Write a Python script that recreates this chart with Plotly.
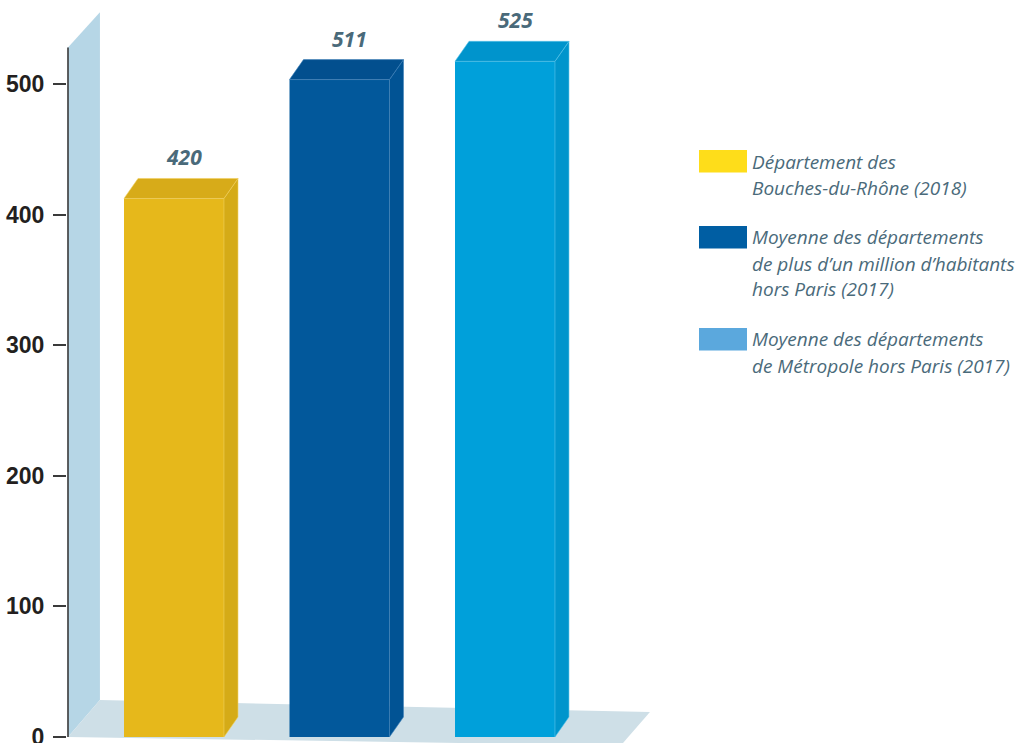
import plotly.graph_objects as go

# --- data -------------------------------------------------------------
categories = [
    "Département des Bouches-du-Rhône (2018)",
    "Moyenne des départements de plus d’un million d’habitants hors Paris (2017)",
    "Moyenne des départements de Métropole hors Paris (2017)",
]
values = [420, 511, 525]
value_labels = ["420", "511", "525"]
legend_lines = [
    ["Département des", "Bouches-du-Rhône (2018)"],
    ["Moyenne des départements", "de plus d’un million d’habitants", "hors Paris (2017)"],
    ["Moyenne des départements", "de Métropole hors Paris (2017)"],
]
y_ticks = [0, 100, 200, 300, 400, 500]

# --- styling ----------------------------------------------------------
front_colors = ["#e6b81b", "#02589b", "#00a0da"]
side_colors = ["#d5ab17", "#015394", "#0095cc"]
top_colors = ["#d7ab19", "#024f8e", "#0094cc"]
edge_colors = ["#f0cf5a", "#3d80b8", "#55c3ea"]
legend_colors = ["#fedd1a", "#005ea3", "#5ba8dd"]
text_color = "#4a6a7a"

W, H = 1022, 743
M_LEFT = 67
X_RANGE = [-0.6465, 5.124]
Y_RANGE = [-4.6, 564.3]

bar_w = 0.604      # front face width (category units)
dx = 0.0846        # depth offset, horizontal (category units)
dy = 15.3          # depth offset, vertical (value units)

fig = go.Figure()

# front faces of the boxes
x_pos = list(range(len(values)))
fig.add_trace(go.Bar(
    x=x_pos,
    y=[v - dy / 2 for v in values],
    base=0,
    width=bar_w,
    marker=dict(color=front_colors, line=dict(width=0)),
    hoverinfo="skip",
    showlegend=False,
))

shapes = []

# back wall and floor
wall_l, wall_r = X_RANGE[0] + 0.006, X_RANGE[0] + 0.199
shapes.append(dict(
    type="path", xref="x", yref="y", layer="below",
    path=f"M {wall_l},0 L {wall_l},528 L {wall_r},555 L {wall_r},28.3 Z",
    fillcolor="#b6d6e6", line=dict(width=0),
))
shapes.append(dict(
    type="path", xref="x", yref="y", layer="below",
    path=f"M {wall_l},0 L {wall_r},28.3 L 2.876,19.1 L 2.70,-6.5 Z",
    fillcolor="#cedfe7", line=dict(width=0),
))

# top and side faces of each box
for i, v in enumerate(values):
    h = v - dy / 2
    xl = i - bar_w / 2
    xr = i + bar_w / 2
    shapes.append(dict(
        type="path", xref="x", yref="y", layer="above",
        path=f"M {xr},0 L {xr},{h} L {xr + dx},{h + dy} L {xr + dx},{dy} Z",
        fillcolor=side_colors[i], line=dict(color=edge_colors[i], width=0.6),
    ))
    shapes.append(dict(
        type="path", xref="x", yref="y", layer="above",
        path=f"M {xl},{h} L {xr},{h} L {xr + dx},{h + dy} L {xl + dx},{h + dy} Z",
        fillcolor=top_colors[i], line=dict(color=edge_colors[i], width=0.6),
    ))

# vertical axis line
shapes.append(dict(
    type="line", xref="x", yref="y", layer="above",
    x0=wall_l, x1=wall_l, y0=0, y1=528,
    line=dict(color="#3a3a3a", width=1.6),
))

annotations = []
for i, v in enumerate(values):
    annotations.append(dict(
        x=i + dx / 2 + 0.02, y=v + dy / 2, xref="x", yref="y",
        text=f"<b><i>{value_labels[i]}</i></b>", showarrow=False,
        yanchor="middle", xanchor="center", yshift=21,
        font=dict(family="Open Sans", size=21, color=text_color),
    ))

# legend drawn by hand
def px_x(p):
    return (p - M_LEFT) / (W - M_LEFT)

def px_y(p):
    return 1 - p / H

swatch_tops = [150, 226, 328]
for k, lines in enumerate(legend_lines):
    top = swatch_tops[k]
    shapes.append(dict(
        type="rect", xref="paper", yref="paper",
        x0=px_x(699), x1=px_x(747), y0=px_y(top + 22.5), y1=px_y(top),
        fillcolor=legend_colors[k], line=dict(width=0),
    ))
    for j, line in enumerate(lines):
        annotations.append(dict(
            x=px_x(750), y=px_y(top + 11.5 + 26 * j), xref="paper", yref="paper",
            text=f"<i>{line}</i>", showarrow=False,
            xanchor="left", yanchor="middle",
            font=dict(family="Open Sans", size=19, color=text_color),
        ))

fig.update_layout(
    width=W, height=H,
    margin=dict(l=M_LEFT, r=0, t=0, b=0),
    paper_bgcolor="white", plot_bgcolor="white",
    shapes=shapes, annotations=annotations,
    showlegend=False,
    xaxis=dict(range=X_RANGE, visible=False, fixedrange=True, automargin=False),
    yaxis=dict(
        range=Y_RANGE, tickvals=y_ticks,
        ticktext=[f"<b>{t}</b>" for t in y_ticks],
        ticks="outside", ticklen=13, tickwidth=1.6, tickcolor="#3a3a3a",
        showgrid=False, zeroline=False, showline=False,
        ticklabelstandoff=4, ticklabeloverflow="allow", automargin=False,
        tickfont=dict(family="Liberation Sans", size=23, color="#231f20"),
        fixedrange=True,
    ),
)

fig.write_html("out.html")
